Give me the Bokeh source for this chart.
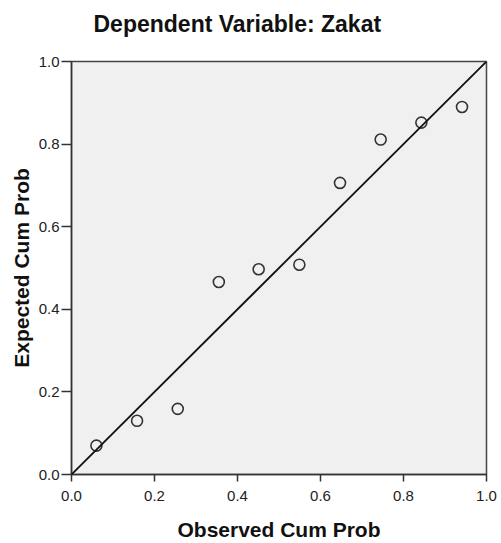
from bokeh.plotting import figure
from bokeh.models import Range1d, FixedTicker, NumeralTickFormatter, Slope, Title
from bokeh.embed import file_html
from bokeh.resources import INLINE

# Data
observed_cum_prob = [0.060, 0.158, 0.256, 0.355, 0.451, 0.549, 0.647, 0.745, 0.843, 0.941]
expected_cum_prob = [0.070, 0.130, 0.159, 0.466, 0.497, 0.508, 0.706, 0.811, 0.852, 0.890]
tick_values = [0.0, 0.2, 0.4, 0.6, 0.8, 1.0]

title_text = "Dependent Variable: Zakat"
x_label = "Observed Cum Prob"
y_label = "Expected Cum Prob"

FONT = "Liberation Sans"

p = figure(width=501, height=543, output_backend="svg", toolbar_location=None,
           x_range=Range1d(0, 1), y_range=Range1d(0, 1),
           min_border_left=71, min_border_right=15, min_border_top=61, min_border_bottom=68)

p.title = Title(text=title_text, align="left", offset=22, text_font=FONT,
                text_font_size="23px", text_font_style="bold", text_color="#111111",
                standoff=0, padding=dict(left=0, right=0, top=0, bottom=25))

p.background_fill_color = "#F0F0F0"
p.border_fill_color = "white"
p.outline_line_color = "#444444"
p.outline_line_width = 1.5
p.xgrid.visible = False
p.ygrid.visible = False

for ax in (p.xaxis[0], p.yaxis[0]):
    ax.ticker = FixedTicker(ticks=tick_values)
    ax.formatter = NumeralTickFormatter(format="0.0")
    ax.minor_tick_line_color = None
    ax.major_tick_in = 0
    ax.axis_line_color = "#333333"
    ax.axis_line_width = 1.5
    ax.major_tick_line_color = "#333333"
    ax.major_tick_line_width = 1.5
    ax.major_label_text_font = FONT
    ax.major_label_text_font_size = "15px"
    ax.major_label_text_color = "#222222"
    ax.axis_label_text_font = FONT
    ax.axis_label_text_font_size = "21px"
    ax.axis_label_text_font_style = "bold"
    ax.axis_label_text_color = "#111111"

p.xaxis.axis_label = x_label
p.yaxis.axis_label = y_label
p.xaxis.major_tick_out = 7
p.yaxis.major_tick_out = 10
p.xaxis.major_label_standoff = 9
p.yaxis.major_label_standoff = 2
p.xaxis.axis_label_standoff = 14
p.yaxis.axis_label_standoff = 3

p.add_layout(Slope(gradient=1, y_intercept=0, line_color="#111111", line_width=1.8))

p.scatter(observed_cum_prob, expected_cum_prob, marker="circle", size=11,
          fill_color=None, line_color="#333333", line_width=1.6)

open("out.html", "w").write(file_html(p, INLINE))
